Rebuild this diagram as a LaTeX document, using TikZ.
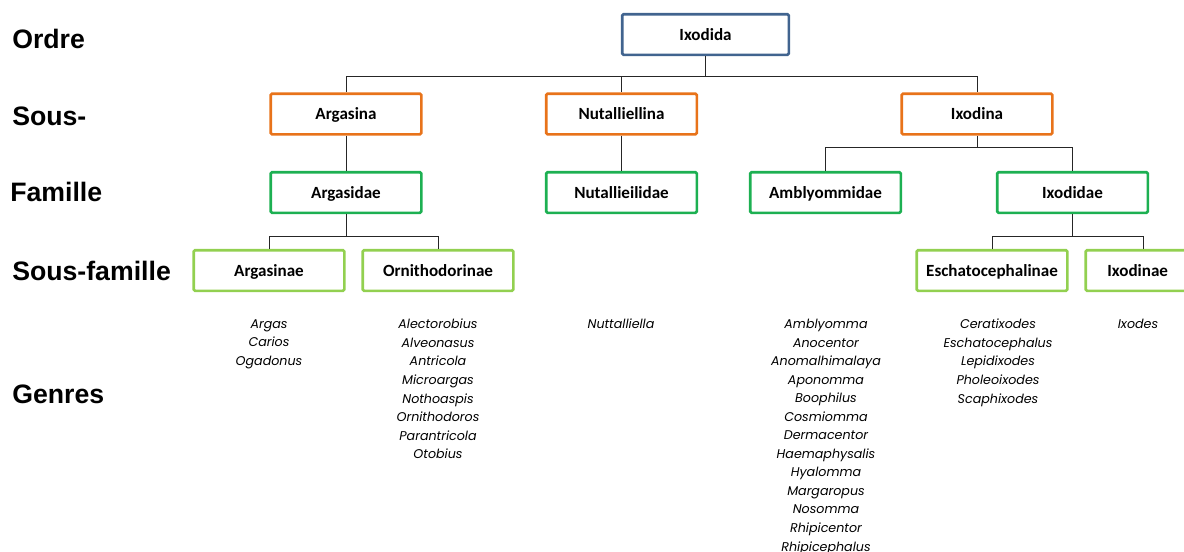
\documentclass[tikz,border=0pt]{standalone}
\usepackage{fontspec}
\setmainfont{Carlito}
\newfontfamily\rankfont{Liberation Sans}
\newfontfamily\genusfont{Poppins}
\definecolor{ordreblue}{HTML}{41648F}
\definecolor{sousorange}{HTML}{E8731A}
\definecolor{famgreen}{HTML}{1DB052}
\definecolor{sfamgreen}{HTML}{92D050}
\begin{document}
\begin{tikzpicture}[x=0.75pt,y=-0.75pt]
		\tikzstyle{taxon}=[draw,line width=2pt,rounded corners=1pt,inner sep=0pt,minimum width=113pt,minimum height=30.5pt,text height=8.6pt,text depth=0pt,font=\bfseries\fontsize{12.8}{14}\selectfont]
		\tikzstyle{rank}=[anchor=west,inner sep=0pt,font=\rankfont\bfseries\fontsize{20}{22}\selectfont]
		\tikzstyle{genus}=[anchor=north,inner sep=0pt,align=center,font=\genusfont\itshape\fontsize{9.5}{13.9}\selectfont]
		\tikzstyle{link}=[line width=0.7pt,black!85]
		\useasboundingbox (0,0) rectangle (1184,551);
		% rangs
		\node[rank] (ordre) at (12,39) {Ordre};
		\node[rank] (sousordre) at (12,116) {Sous-};
		\node[rank] (famille) at (10,192) {Famille};
		\node[rank] (sousfamille) at (12,271) {Sous-famille};
		\node[rank] (genres) at (12,394) {Genres};
		% ordre
		\node[taxon,draw=ordreblue,minimum width=125pt] (ixodida) at (705.5,34.5) {Ixodida};
		% sous-ordres
		\node[taxon,draw=sousorange] (argasina) at (346,114) {Argasina};
		\node[taxon,draw=sousorange] (nutalliellina) at (621.5,114) {Nutalliellina};
		\node[taxon,draw=sousorange] (ixodina) at (977,114) {Ixodina};
		% familles
		\node[taxon,draw=famgreen] (argasidae) at (346,192.5) {Argasidae};
		\node[taxon,draw=famgreen] (nutallieilidae) at (621.5,192.5) {Nutallieilidae};
		\node[taxon,draw=famgreen] (amblyommidae) at (825.5,192.5) {Amblyommidae};
		\node[taxon,draw=famgreen] (ixodidae) at (1072.5,192.5) {Ixodidae};
		% sous-familles
		\node[taxon,draw=sfamgreen] (argasinae) at (269,270.5) {Argasinae};
		\node[taxon,draw=sfamgreen] (ornithodorinae) at (438,270.5) {Ornithodorinae};
		\node[taxon,draw=sfamgreen] (eschatocephalinae) at (992,270.5) {Eschatocephalinae};
		\node[taxon,draw=sfamgreen,minimum width=86pt,text width=60pt,align=center] (ixodinae) at (1143,270.5) {\hspace*{-8pt}Ixodinae};
		% genres
		\node[genus] (g1) at (269,319) {Argas\\Carios\\Ogadonus};
		\node[genus] (g2) at (438,319) {Alectorobius\\Alveonasus\\Antricola\\Microargas\\Nothoaspis\\Ornithodoros\\Parantricola\\Otobius};
		\node[genus] (g3) at (621,319) {Nuttalliella};
		\node[genus] (g4) at (826,319) {Amblyomma\\Anocentor\\Anomalhimalaya\\Aponomma\\Boophilus\\Cosmiomma\\Dermacentor\\Haemaphysalis\\Hyalomma\\Margaropus\\Nosomma\\Rhipicentor\\Rhipicephalus};
		\node[genus] (g5) at (998,319) {Ceratixodes\\Eschatocephalus\\Lepidixodes\\Pholeoixodes\\Scaphixodes};
		\node[genus] (g6) at (1138,319) {Ixodes};
		% liens
		\draw[link] (ixodida.south) -- ++(0,20) -| (argasina.north);
		\draw[link] (ixodida.south) ++(0,20) -| (nutalliellina.north);
		\draw[link] (ixodida.south) ++(0,20) -| (ixodina.north);
		\draw[link] (argasina) -- (argasidae);
		\draw[link] (nutalliellina) -- (nutallieilidae);
		\draw[link] (ixodina.south) -- ++(0,12) -| (amblyommidae.north);
		\draw[link] (ixodina.south) ++(0,12) -| (ixodidae.north);
		\draw[link] (argasidae.south) -- ++(0,22) -| (argasinae.north);
		\draw[link] (argasidae.south) ++(0,22) -| (ornithodorinae.north);
		\draw[link] (ixodidae.south) -- ++(0,22) -| (eschatocephalinae.north);
		\draw[link] (ixodidae.south) ++(0,22) -| (ixodinae.north);
\end{tikzpicture}
\end{document}
